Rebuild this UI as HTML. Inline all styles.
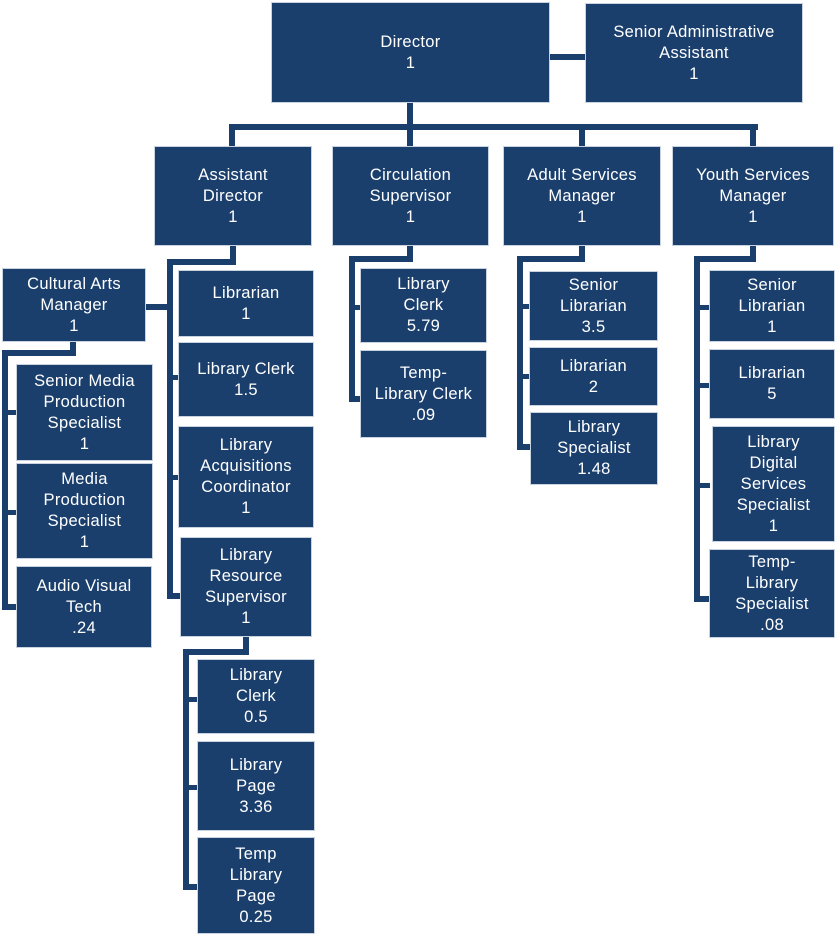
<!DOCTYPE html>
<html><head><meta charset="utf-8"><style>
html,body{margin:0;padding:0;background:#fff;}
body{width:836px;height:937px;position:relative;overflow:hidden;font-family:"Liberation Sans",sans-serif;}
.b{position:absolute;background:#1b3f6d;color:#fff;display:flex;align-items:center;justify-content:center;text-align:center;font-size:16.5px;line-height:21px;letter-spacing:0.3px;box-sizing:border-box;box-shadow:0 0 0 1px #c9d3df;}
.l{position:absolute;background:#1b3f6d;}
</style></head><body>
<div class="l" style="left:540px;top:54px;width:50px;height:6px"></div>
<div class="l" style="left:407px;top:100px;width:6px;height:30px"></div>
<div class="l" style="left:229px;top:124px;width:529px;height:6px"></div>
<div class="l" style="left:229px;top:124px;width:6px;height:25px"></div>
<div class="l" style="left:407px;top:124px;width:6px;height:25px"></div>
<div class="l" style="left:579px;top:124px;width:6px;height:25px"></div>
<div class="l" style="left:750px;top:124px;width:6px;height:25px"></div>
<div class="l" style="left:230px;top:244px;width:6px;height:21px"></div>
<div class="l" style="left:167px;top:259px;width:69px;height:6px"></div>
<div class="l" style="left:167px;top:259px;width:6px;height:340px"></div>
<div class="l" style="left:143px;top:304px;width:30px;height:6px"></div>
<div class="l" style="left:167px;top:375px;width:14px;height:5px"></div>
<div class="l" style="left:167px;top:475px;width:14px;height:5px"></div>
<div class="l" style="left:167px;top:593px;width:16px;height:6px"></div>
<div class="l" style="left:70px;top:339px;width:6px;height:17px"></div>
<div class="l" style="left:2px;top:350px;width:74px;height:6px"></div>
<div class="l" style="left:2px;top:350px;width:6px;height:260px"></div>
<div class="l" style="left:2px;top:410px;width:16px;height:5px"></div>
<div class="l" style="left:2px;top:510px;width:16px;height:5px"></div>
<div class="l" style="left:2px;top:604px;width:16px;height:6px"></div>
<div class="l" style="left:243px;top:634px;width:6px;height:20px"></div>
<div class="l" style="left:183px;top:649px;width:66px;height:6px"></div>
<div class="l" style="left:183px;top:649px;width:6px;height:241px"></div>
<div class="l" style="left:183px;top:697px;width:16px;height:5px"></div>
<div class="l" style="left:183px;top:785px;width:16px;height:5px"></div>
<div class="l" style="left:183px;top:884px;width:16px;height:6px"></div>
<div class="l" style="left:407px;top:244px;width:6px;height:18px"></div>
<div class="l" style="left:349px;top:256px;width:64px;height:6px"></div>
<div class="l" style="left:349px;top:256px;width:6px;height:146px"></div>
<div class="l" style="left:349px;top:305px;width:13px;height:5px"></div>
<div class="l" style="left:349px;top:396px;width:13px;height:6px"></div>
<div class="l" style="left:579px;top:244px;width:6px;height:18px"></div>
<div class="l" style="left:517px;top:256px;width:68px;height:6px"></div>
<div class="l" style="left:517px;top:256px;width:6px;height:194px"></div>
<div class="l" style="left:517px;top:304px;width:14px;height:5px"></div>
<div class="l" style="left:517px;top:374px;width:14px;height:5px"></div>
<div class="l" style="left:517px;top:444px;width:14px;height:6px"></div>
<div class="l" style="left:750px;top:244px;width:6px;height:18px"></div>
<div class="l" style="left:694px;top:256px;width:62px;height:6px"></div>
<div class="l" style="left:694px;top:256px;width:6px;height:346px"></div>
<div class="l" style="left:694px;top:305px;width:16px;height:5px"></div>
<div class="l" style="left:694px;top:383px;width:16px;height:5px"></div>
<div class="l" style="left:694px;top:483px;width:16px;height:5px"></div>
<div class="l" style="left:694px;top:596px;width:16px;height:6px"></div>

<div class="b" style="left:272px;top:3px;width:277px;height:99px">Director<br>1</div>
<div class="b" style="left:586px;top:4px;width:216px;height:98px">Senior Administrative<br>Assistant<br>1</div>

<div class="b" style="left:155px;top:147px;width:156px;height:98px">Assistant<br>Director<br>1</div>
<div class="b" style="left:333px;top:147px;width:155px;height:98px">Circulation<br>Supervisor<br>1</div>
<div class="b" style="left:504px;top:147px;width:156px;height:98px">Adult Services<br>Manager<br>1</div>
<div class="b" style="left:673px;top:147px;width:160px;height:98px">Youth Services<br>Manager<br>1</div>

<div class="b" style="left:3px;top:269px;width:142px;height:72px">Cultural Arts<br>Manager<br>1</div>
<div class="b" style="left:17px;top:365px;width:135px;height:95px">Senior Media<br>Production<br>Specialist<br>1</div>
<div class="b" style="left:17px;top:464px;width:135px;height:94px">Media<br>Production<br>Specialist<br>1</div>
<div class="b" style="left:17px;top:567px;width:134px;height:80px">Audio Visual<br>Tech<br>.24</div>

<div class="b" style="left:179px;top:271px;width:134px;height:65px">Librarian<br>1</div>
<div class="b" style="left:179px;top:343px;width:134px;height:73px">Library Clerk<br>1.5</div>
<div class="b" style="left:179px;top:427px;width:134px;height:100px">Library<br>Acquisitions<br>Coordinator<br>1</div>
<div class="b" style="left:181px;top:538px;width:130px;height:98px">Library<br>Resource<br>Supervisor<br>1</div>

<div class="b" style="left:198px;top:660px;width:116px;height:73px">Library<br>Clerk<br>0.5</div>
<div class="b" style="left:198px;top:742px;width:116px;height:88px">Library<br>Page<br>3.36</div>
<div class="b" style="left:198px;top:838px;width:116px;height:95px">Temp<br>Library<br>Page<br>0.25</div>

<div class="b" style="left:361px;top:269px;width:125px;height:73px">Library<br>Clerk<br>5.79</div>
<div class="b" style="left:361px;top:351px;width:125px;height:86px">Temp-<br>Library Clerk<br>.09</div>

<div class="b" style="left:530px;top:272px;width:127px;height:68px">Senior<br>Librarian<br>3.5</div>
<div class="b" style="left:530px;top:348px;width:127px;height:57px">Librarian<br>2</div>
<div class="b" style="left:531px;top:413px;width:126px;height:71px">Library<br>Specialist<br>1.48</div>

<div class="b" style="left:710px;top:271px;width:124px;height:70px">Senior<br>Librarian<br>1</div>
<div class="b" style="left:710px;top:350px;width:124px;height:68px">Librarian<br>5</div>
<div class="b" style="left:713px;top:427px;width:121px;height:114px">Library<br>Digital<br>Services<br>Specialist<br>1</div>
<div class="b" style="left:710px;top:550px;width:124px;height:87px">Temp-<br>Library<br>Specialist<br>.08</div>
</body></html>
